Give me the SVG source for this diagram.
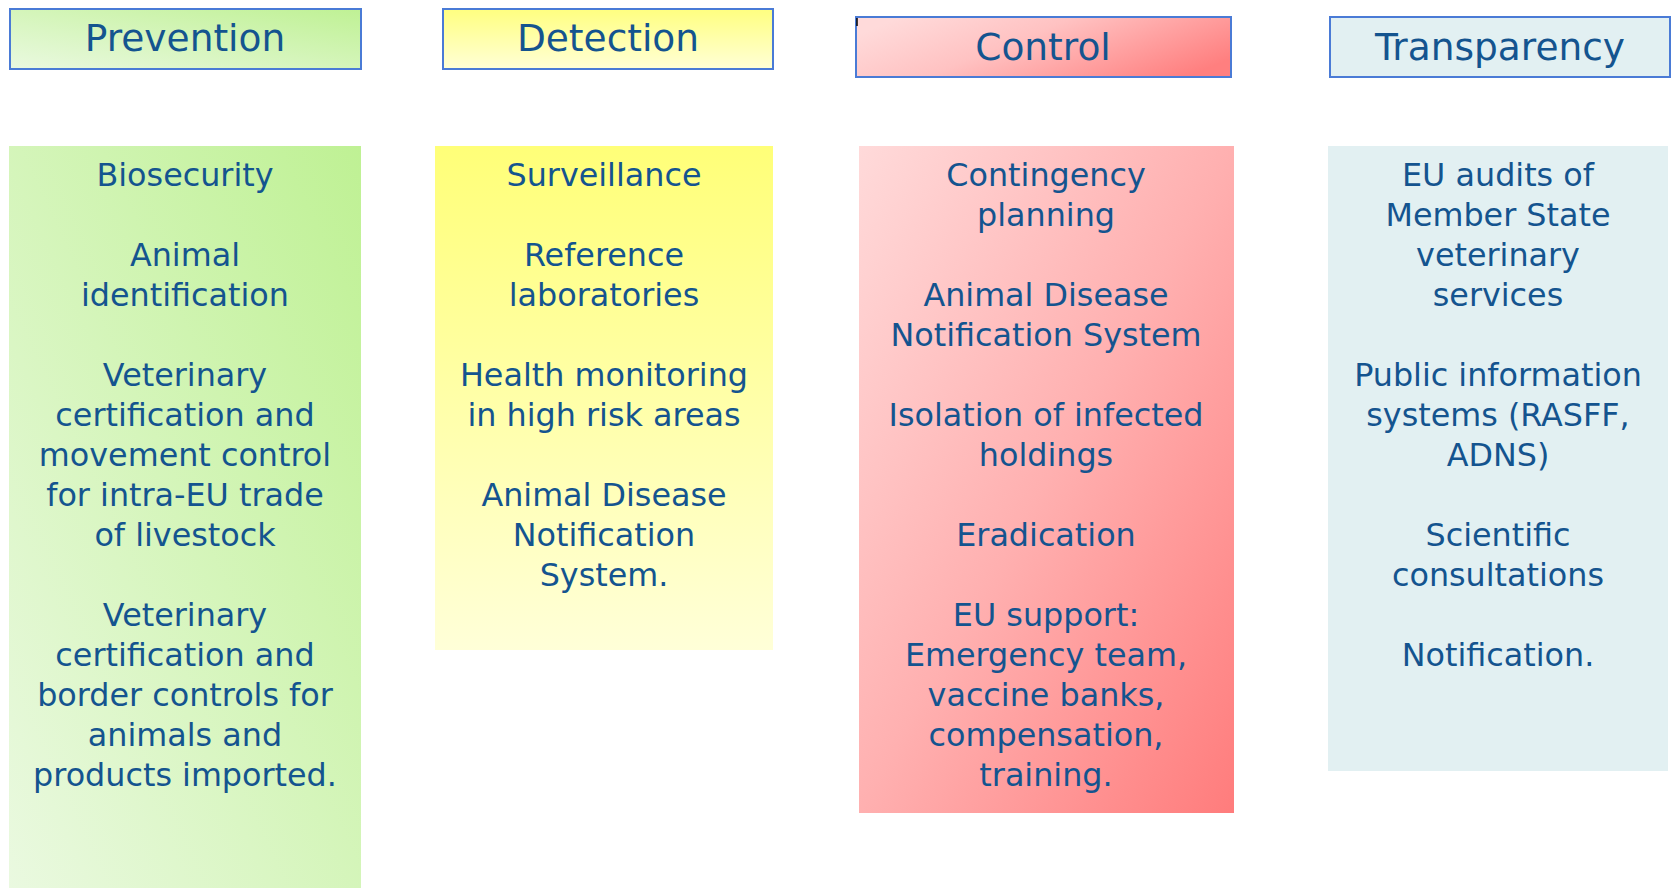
<svg xmlns="http://www.w3.org/2000/svg" width="1671" height="888" viewBox="0 0 1671 888">
<style>
.hdr{stroke:#4A7BD6;stroke-width:2}
.ht{font-family:"DejaVu Sans",Verdana,sans-serif;font-size:37.5px;fill:#14548F;text-anchor:middle}
.bt{font-family:"DejaVu Sans",Verdana,sans-serif;font-size:31.8px;fill:#14548F;text-anchor:middle}
</style>
<defs>
<linearGradient id="gGreen" x1="0" y1="1" x2="1" y2="0">
<stop offset="0" stop-color="#EAF9E0"/><stop offset="1" stop-color="#BFF194"/>
</linearGradient>
<linearGradient id="gYellowH" x1="0" y1="0" x2="0" y2="1">
<stop offset="0" stop-color="#FFFF80"/><stop offset="1" stop-color="#FFFFD6"/>
</linearGradient>
<linearGradient id="gYellowB" x1="0" y1="0" x2="0" y2="1">
<stop offset="0" stop-color="#FFFF78"/><stop offset="1" stop-color="#FFFFD8"/>
</linearGradient>
<linearGradient id="gRedH" x1="0" y1="0.3" x2="1" y2="0.7">
<stop offset="0" stop-color="#FFDADA"/><stop offset="0.4" stop-color="#FFC2C2"/><stop offset="1" stop-color="#FF7F7F"/>
</linearGradient>
<linearGradient id="gRedB" x1="0" y1="0" x2="1" y2="1">
<stop offset="0" stop-color="#FFDADA"/><stop offset="0.5" stop-color="#FFB0B0"/><stop offset="1" stop-color="#FF7C7C"/>
</linearGradient>
</defs>
<rect width="1671" height="888" fill="#FFFFFF"/>
<g id="prevention-header">
<rect class="hdr" x="10" y="9" width="351" height="60" fill="url(#gGreen)"/>
<text class="ht" x="185" y="51">Prevention</text>
</g>
<g id="detection-header">
<rect class="hdr" x="443" y="9" width="330" height="60" fill="url(#gYellowH)"/>
<text class="ht" x="608" y="51">Detection</text>
</g>
<g id="control-header">
<rect class="hdr" x="856" y="17" width="375" height="60" fill="url(#gRedH)"/>
<line x1="857" y1="18" x2="857" y2="26" stroke="#000" stroke-width="1.5"/>
<text class="ht" x="1043" y="60">Control</text>
</g>
<g id="transparency-header">
<rect class="hdr" x="1330" y="17" width="340" height="60" fill="#E2F0F2"/>
<text class="ht" x="1500" y="60">Transparency</text>
</g>
<g id="prevention-body">
<rect x="9" y="146" width="352" height="742" fill="url(#gGreen)"/>
<text class="bt" x="185" y="186">Biosecurity</text>
<text class="bt" x="185" y="266">Animal</text>
<text class="bt" x="185" y="306">identification</text>
<text class="bt" x="185" y="386">Veterinary</text>
<text class="bt" x="185" y="426">certification and</text>
<text class="bt" x="185" y="466">movement control</text>
<text class="bt" x="185" y="506">for intra-EU trade</text>
<text class="bt" x="185" y="546">of livestock</text>
<text class="bt" x="185" y="626">Veterinary</text>
<text class="bt" x="185" y="666">certification and</text>
<text class="bt" x="185" y="706">border controls for</text>
<text class="bt" x="185" y="746">animals and</text>
<text class="bt" x="185" y="786">products imported.</text>
</g>
<g id="detection-body">
<rect x="435" y="146" width="338" height="504" fill="url(#gYellowB)"/>
<text class="bt" x="604" y="186">Surveillance</text>
<text class="bt" x="604" y="266">Reference</text>
<text class="bt" x="604" y="306">laboratories</text>
<text class="bt" x="604" y="386">Health monitoring</text>
<text class="bt" x="604" y="426">in high risk areas</text>
<text class="bt" x="604" y="506">Animal Disease</text>
<text class="bt" x="604" y="546">Notification</text>
<text class="bt" x="604" y="586">System.</text>
</g>
<g id="control-body">
<rect x="859" y="146" width="375" height="667" fill="url(#gRedB)"/>
<text class="bt" x="1046" y="186">Contingency</text>
<text class="bt" x="1046" y="226">planning</text>
<text class="bt" x="1046" y="306">Animal Disease</text>
<text class="bt" x="1046" y="346">Notification System</text>
<text class="bt" x="1046" y="426">Isolation of infected</text>
<text class="bt" x="1046" y="466">holdings</text>
<text class="bt" x="1046" y="546">Eradication</text>
<text class="bt" x="1046" y="626">EU support:</text>
<text class="bt" x="1046" y="666">Emergency team,</text>
<text class="bt" x="1046" y="706">vaccine banks,</text>
<text class="bt" x="1046" y="746">compensation,</text>
<text class="bt" x="1046" y="786">training.</text>
</g>
<g id="transparency-body">
<rect x="1328" y="146" width="340" height="625" fill="#E2F0F2"/>
<text class="bt" x="1498" y="186">EU audits of</text>
<text class="bt" x="1498" y="226">Member State</text>
<text class="bt" x="1498" y="266">veterinary</text>
<text class="bt" x="1498" y="306">services</text>
<text class="bt" x="1498" y="386">Public information</text>
<text class="bt" x="1498" y="426">systems (RASFF,</text>
<text class="bt" x="1498" y="466">ADNS)</text>
<text class="bt" x="1498" y="546">Scientific</text>
<text class="bt" x="1498" y="586">consultations</text>
<text class="bt" x="1498" y="666">Notification.</text>
</g>
<g id="connectors"/>
</svg>
